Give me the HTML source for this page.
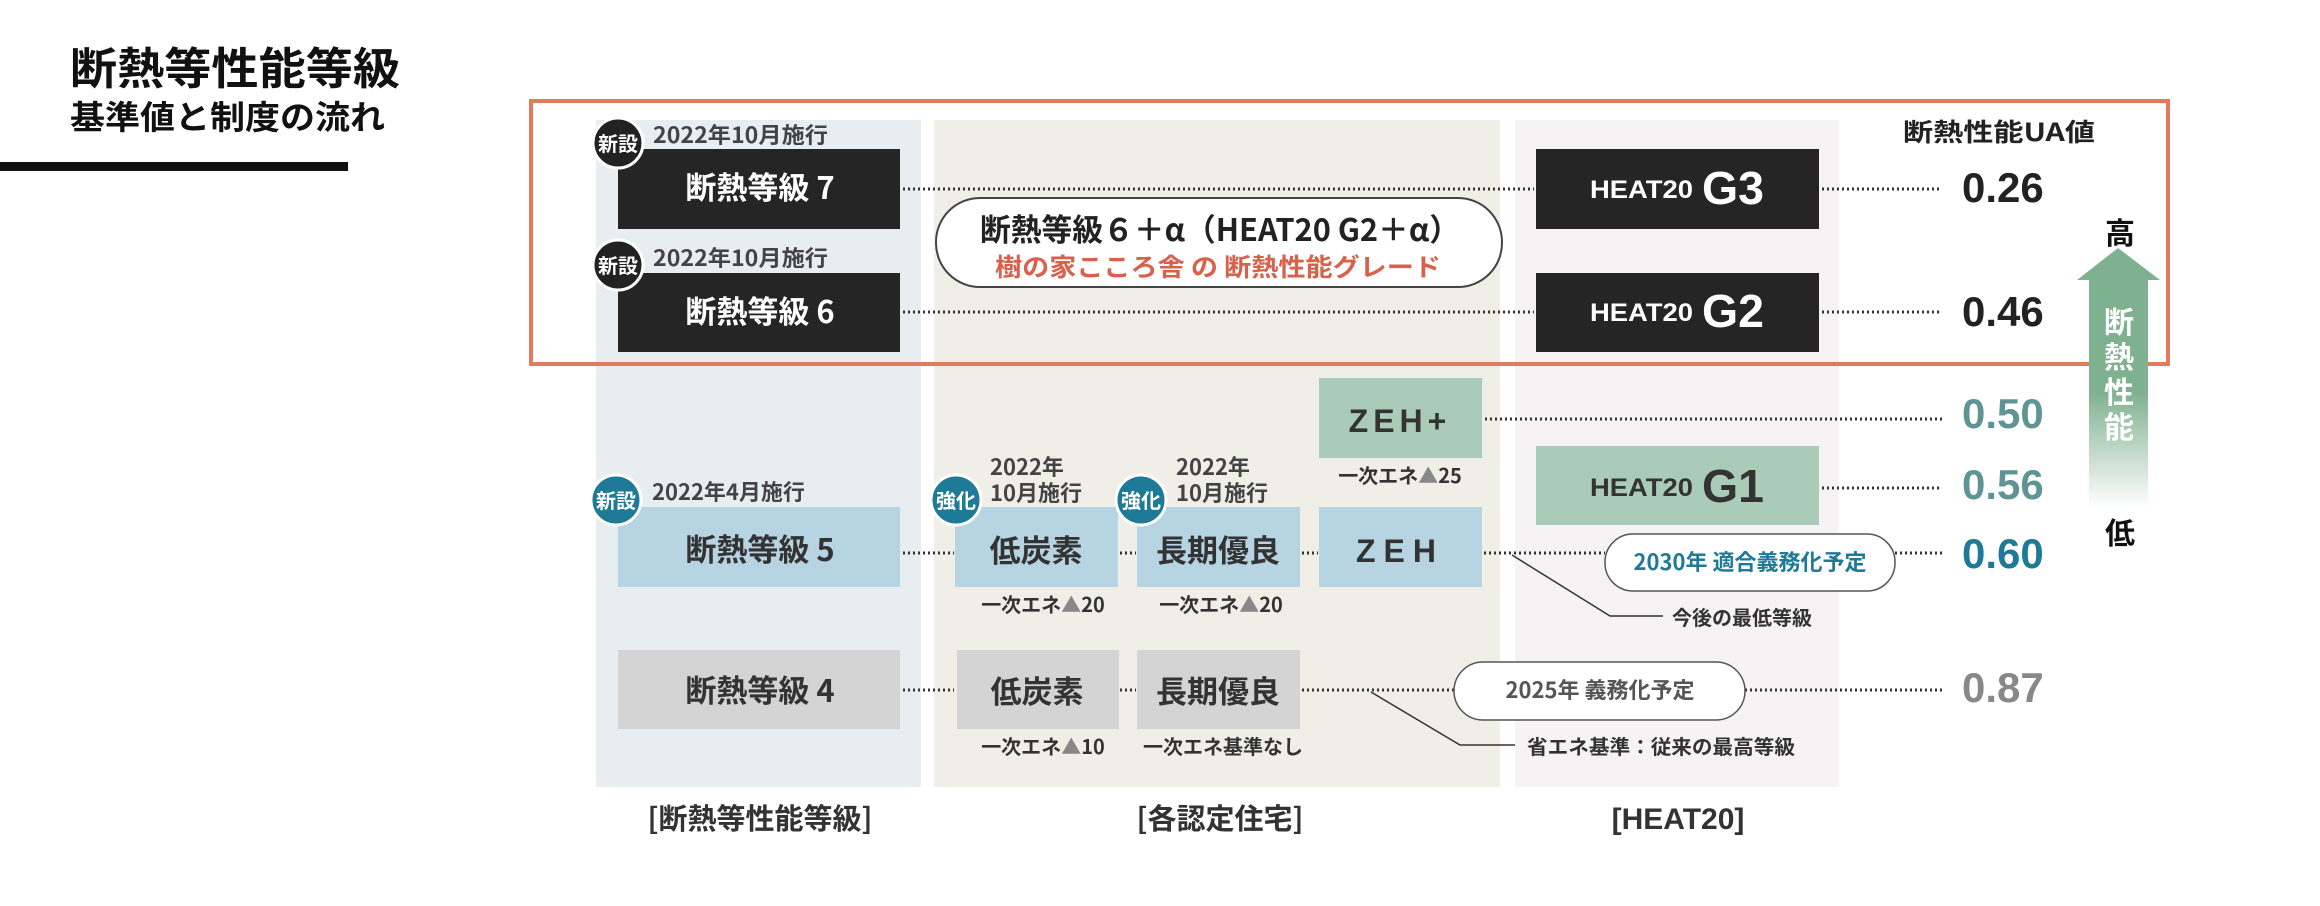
<!DOCTYPE html>
<html><head><meta charset="utf-8"><style>
html,body{margin:0;padding:0;background:#fff;width:2320px;height:906px;overflow:hidden}
svg{display:block}
text{font-family:"Liberation Sans","Noto Sans CJK JP",sans-serif;font-weight:700}
.j{font-family:"Noto Sans CJK JP","Liberation Sans",sans-serif;font-weight:700}
</style></head><body>
<svg width="2320" height="906" viewBox="0 0 2320 906" xmlns="http://www.w3.org/2000/svg">
<defs>
<linearGradient id="ag" x1="0" y1="0" x2="0" y2="1">
<stop offset="0" stop-color="#7fb08f"/><stop offset="0.55" stop-color="#7fb08f"/><stop offset="1" stop-color="#ffffff"/>
</linearGradient>
</defs>
<text class="j" x="70" y="84" font-size="44" fill="#111" textLength="330" lengthAdjust="spacingAndGlyphs">断熱等性能等級</text>
<text class="j" x="70" y="129" font-size="33" fill="#111" textLength="315" lengthAdjust="spacingAndGlyphs">基準値と制度の流れ</text>
<rect x="0" y="162" width="348" height="9" fill="#111"/>

<rect x="596" y="120" width="325" height="667" fill="#e8edf0"/>
<rect x="934" y="120" width="566" height="667" fill="#efefe7"/>
<rect x="1515" y="120" width="324" height="667" fill="#f5f3f3"/>

<rect x="531" y="101" width="1637" height="263" fill="none" stroke="#e27b5e" stroke-width="4"/>

<g stroke="#333" stroke-width="3" stroke-dasharray="2 3" fill="none">
<line x1="903" y1="189" x2="1534" y2="189"/>
<line x1="1822" y1="189" x2="1942" y2="189"/>
<line x1="903" y1="312" x2="1534" y2="312"/>
<line x1="1822" y1="312" x2="1942" y2="312"/>
<line x1="1485" y1="419" x2="1942" y2="419"/>
<line x1="1822" y1="488" x2="1942" y2="488"/>
<line x1="903" y1="553" x2="954" y2="553"/>
<line x1="1120" y1="553" x2="1136" y2="553"/>
<line x1="1302" y1="553" x2="1318" y2="553"/>
<line x1="1484" y1="553" x2="1605" y2="553"/>
<line x1="1895" y1="553" x2="1942" y2="553"/>
<line x1="903" y1="690" x2="954" y2="690"/>
<line x1="1120" y1="690" x2="1136" y2="690"/>
<line x1="1302" y1="690" x2="1454" y2="690"/>
<line x1="1745" y1="690" x2="1942" y2="690"/>
</g>
<g stroke="#333" stroke-width="1.5" fill="none">
<polyline points="1512,555 1610,616 1663,616"/>
<polyline points="1371,692 1460,745 1515,745"/>
</g>

<rect x="618" y="149" width="282" height="80" fill="#252525"/>
<rect x="618" y="273" width="282" height="79" fill="#252525"/>
<text class="j" x="760" y="199" font-size="31" fill="#fff" text-anchor="middle">断熱等級 7</text>
<text class="j" x="760" y="323" font-size="31" fill="#fff" text-anchor="middle">断熱等級 6</text>
<circle cx="618" cy="143" r="25" fill="#222" stroke="#fff" stroke-width="3"/>
<text class="j" x="618" y="151" font-size="20" fill="#fff" text-anchor="middle">新設</text>
<circle cx="618" cy="265" r="25" fill="#222" stroke="#fff" stroke-width="3"/>
<text class="j" x="618" y="273" font-size="20" fill="#fff" text-anchor="middle">新設</text>
<text class="j" x="653" y="143" font-size="22" fill="#444" textLength="175" lengthAdjust="spacingAndGlyphs">2022年10月施行</text>
<text class="j" x="653" y="266" font-size="22" fill="#444" textLength="175" lengthAdjust="spacingAndGlyphs">2022年10月施行</text>

<rect x="936" y="198" width="566" height="89" rx="44" fill="#fff" stroke="#444" stroke-width="2"/>
<text class="j" x="1220" y="241" font-size="31" fill="#222" text-anchor="middle" textLength="480" lengthAdjust="spacingAndGlyphs">断熱等級６＋α（HEAT20 G2＋α）</text>
<text class="j" x="1218" y="276" font-size="25" fill="#d9604a" text-anchor="middle" textLength="446" lengthAdjust="spacingAndGlyphs">樹の家こころ舎 の 断熱性能グレード</text>

<rect x="1536" y="149" width="283" height="80" fill="#252525"/>
<rect x="1536" y="273" width="283" height="79" fill="#252525"/>
<rect x="1536" y="446" width="283" height="79" fill="#abcbb9"/>
<text x="1590" y="198" font-size="25" fill="#fff" textLength="103" lengthAdjust="spacingAndGlyphs">HEAT20</text>
<text x="1702" y="204" font-size="46" fill="#fff" textLength="62" lengthAdjust="spacingAndGlyphs">G3</text>
<text x="1590" y="321" font-size="25" fill="#fff" textLength="103" lengthAdjust="spacingAndGlyphs">HEAT20</text>
<text x="1702" y="327" font-size="46" fill="#fff" textLength="62" lengthAdjust="spacingAndGlyphs">G2</text>
<text x="1590" y="496" font-size="25" fill="#333" textLength="103" lengthAdjust="spacingAndGlyphs">HEAT20</text>
<text x="1702" y="502" font-size="46" fill="#333" textLength="62" lengthAdjust="spacingAndGlyphs">G1</text>

<rect x="1319" y="378" width="163" height="80" fill="#abcbb9"/>
<text x="1400" y="432" font-size="32" fill="#333" text-anchor="middle" letter-spacing="5">ZEH+</text>
<text class="j" x="1400" y="483" font-size="20" fill="#333" text-anchor="middle">一次エネ<tspan fill="#888">▲</tspan>25</text>

<rect x="618" y="507" width="282" height="80" fill="#b7d4e2"/>
<rect x="955" y="507" width="163" height="80" fill="#b7d4e2"/>
<rect x="1137" y="507" width="163" height="80" fill="#b7d4e2"/>
<rect x="1319" y="507" width="163" height="80" fill="#b7d4e2"/>
<text class="j" x="760" y="561" font-size="31" fill="#333" text-anchor="middle">断熱等級 5</text>
<text class="j" x="1036" y="562" font-size="31" fill="#333" text-anchor="middle">低炭素</text>
<text class="j" x="1218" y="562" font-size="31" fill="#333" text-anchor="middle">長期優良</text>
<text x="1400" y="562" font-size="32" fill="#333" text-anchor="middle" letter-spacing="8">ZEH</text>
<circle cx="616" cy="500" r="25" fill="#1e7a96" stroke="#fff" stroke-width="3"/>
<text class="j" x="616" y="508" font-size="20" fill="#fff" text-anchor="middle">新設</text>
<circle cx="956" cy="500" r="25" fill="#1e7a96" stroke="#fff" stroke-width="3"/>
<text class="j" x="956" y="508" font-size="20" fill="#fff" text-anchor="middle">強化</text>
<circle cx="1141" cy="500" r="25" fill="#1e7a96" stroke="#fff" stroke-width="3"/>
<text class="j" x="1141" y="508" font-size="20" fill="#fff" text-anchor="middle">強化</text>
<text class="j" x="652" y="500" font-size="22" fill="#444">2022年4月施行</text>
<text class="j" x="990" y="475" font-size="22" fill="#444">2022年</text>
<text class="j" x="990" y="501" font-size="22" fill="#444">10月施行</text>
<text class="j" x="1176" y="475" font-size="22" fill="#444">2022年</text>
<text class="j" x="1176" y="501" font-size="22" fill="#444">10月施行</text>
<text class="j" x="1043" y="612" font-size="20" fill="#333" text-anchor="middle">一次エネ<tspan fill="#888">▲</tspan>20</text>
<text class="j" x="1221" y="612" font-size="20" fill="#333" text-anchor="middle">一次エネ<tspan fill="#888">▲</tspan>20</text>

<rect x="1605" y="534" width="290" height="57" rx="28" fill="#fff" stroke="#555" stroke-width="1.5"/>
<text class="j" x="1750" y="570" font-size="22" fill="#1e7a96" text-anchor="middle">2030年 適合義務化予定</text>
<text class="j" x="1672" y="625" font-size="20" fill="#333">今後の最低等級</text>

<rect x="618" y="650" width="282" height="79" fill="#d4d4d4"/>
<rect x="957" y="650" width="162" height="79" fill="#d4d4d4"/>
<rect x="1137" y="650" width="163" height="79" fill="#d4d4d4"/>
<text class="j" x="760" y="702" font-size="31" fill="#333" text-anchor="middle">断熱等級 4</text>
<text class="j" x="1037" y="703" font-size="31" fill="#333" text-anchor="middle">低炭素</text>
<text class="j" x="1218" y="703" font-size="31" fill="#333" text-anchor="middle">長期優良</text>
<text class="j" x="1043" y="754" font-size="20" fill="#333" text-anchor="middle">一次エネ<tspan fill="#888">▲</tspan>10</text>
<text class="j" x="1223" y="754" font-size="20" fill="#333" text-anchor="middle">一次エネ基準なし</text>
<rect x="1454" y="662" width="291" height="58" rx="29" fill="#fff" stroke="#555" stroke-width="1.5"/>
<text class="j" x="1600" y="698" font-size="22" fill="#555" text-anchor="middle">2025年 義務化予定</text>
<text class="j" x="1527" y="754" font-size="20" fill="#333" textLength="268" lengthAdjust="spacingAndGlyphs">省エネ基準：従来の最高等級</text>

<text class="j" x="760" y="829" font-size="29" fill="#333" text-anchor="middle">[断熱等性能等級]</text>
<text class="j" x="1220" y="829" font-size="29" fill="#333" text-anchor="middle">[各認定住宅]</text>
<text x="1678" y="829" font-size="30" fill="#333" text-anchor="middle">[HEAT20]</text>

<text class="j" x="1903" y="141" font-size="25" fill="#222" textLength="192" lengthAdjust="spacingAndGlyphs">断熱性能UA値</text>
<text x="1962" y="202" font-size="42" fill="#222">0.26</text>
<text x="1962" y="326" font-size="42" fill="#222">0.46</text>
<text x="1962" y="428" font-size="42" fill="#5e9594">0.50</text>
<text x="1962" y="499" font-size="42" fill="#5e9594">0.56</text>
<text x="1962" y="568" font-size="42" fill="#1e7a96">0.60</text>
<text x="1962" y="702" font-size="42" fill="#888">0.87</text>

<text class="j" x="2120" y="244" font-size="30" fill="#111" text-anchor="middle">高</text>
<polygon points="2118,248 2160,280 2148,280 2148,508 2089,508 2089,280 2077,280" fill="url(#ag)"/>
<text class="j" x="2119" y="333" font-size="30" fill="#fff" text-anchor="middle">断</text>
<text class="j" x="2119" y="368" font-size="30" fill="#fff" text-anchor="middle">熱</text>
<text class="j" x="2119" y="403" font-size="30" fill="#fff" text-anchor="middle">性</text>
<text class="j" x="2119" y="438" font-size="30" fill="#fff" text-anchor="middle">能</text>
<text class="j" x="2120" y="544" font-size="30" fill="#111" text-anchor="middle">低</text>
</svg>
</body></html>
